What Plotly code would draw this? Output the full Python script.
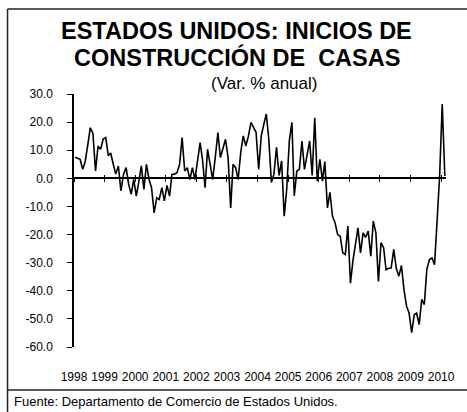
import pandas as pd
import plotly.graph_objects as go

# ---- data ----
start_month = "1998-01"
var_anual = [
    7.5, 7.2, 6.8, 3.2, 6.0, 12.0, 18.0, 16.0, 2.6, 11.5, 10.3, 14.0,          # 1998
    14.5, 8.0, 9.0, 5.0, 1.5, 4.4, -4.5, 1.4, 3.8, -2.0, -5.7, -0.4,           # 1999
    -6.3, -1.0, 4.4, -3.9, 5.0, -0.4, -3.3, -12.3, -6.9, -7.5, -3.3, -8.0,     # 2000
    -2.5, -6.3, 1.4, 1.5, 2.0, 5.0, 14.5, 2.6, 3.8, -0.4, 3.8, -0.4,           # 2001
    5.6, 12.7, 6.8, -3.3, 10.3, 5.0, -0.4, 7.4, 16.3, 7.4, 10.5, 13.9,         # 2002
    7.4, -10.5, 5.0, 3.8, -0.4, 9.2, 15.1, 11.5, 15.0, 19.9, 18.1, 16.3,       # 2003
    3.2, 15.1, 19.0, 22.9, 14.0, -1.5, 1.4, 11.0, 1.0, 6.2, -13.5, -3.9,       # 2004
    13.3, 19.9, -6.3, 2.6, 3.2, 13.3, 3.2, 8.6, 13.3, 1.0, 21.5, -1.0,         # 2005
    6.8, -1.0, 6.0, -10.5, -5.0, -13.5, -15.8, -20.0, -20.6, -26.5, -27.1, -17.0,  # 2006
    -37.3, -29.0, -23.0, -17.6, -26.5, -19.4, -21.0, -18.8, -27.7, -15.2, -19.4, -36.7,  # 2007
    -22.9, -24.7, -32.5, -32.0, -31.9, -25.3, -32.0, -34.8, -31.0, -39.6, -45.5, -47.9,  # 2008
    -54.9, -48.5, -47.9, -52.0, -43.1, -44.9, -32.4, -28.9, -28.3, -30.7, -15.0, 1.0,    # 2009
    26.4, 0.8,                                                                 # 2010
]
year_labels = ["1998", "1999", "2000", "2001", "2002", "2003", "2004",
               "2005", "2006", "2007", "2008", "2009", "2010"]
y_ticks = [30, 20, 10, 0, -10, -20, -30, -40, -50, -60]

title_line1 = "ESTADOS UNIDOS: INICIOS DE"
title_line2 = "CONSTRUCCIÓN DE  CASAS"
subtitle = "(Var. % anual)"
source = "Fuente: Departamento de Comercio de Estados Unidos."

# ---- geometry (pixels) ----
W, H = 467, 412
L, R, T, B = 74, 449, 94, 347
FONT = "Liberation Sans, Arial, sans-serif"


def px_x(x):
    return (x - L) / (R - L)


def px_y(y):
    return (B - y) / (B - T)


months = pd.date_range(start_month + "-01", periods=len(var_anual), freq="MS")
dates = months + pd.Timedelta(days=14)
x_start = months[0]
x_end = months[-1] + pd.DateOffset(months=1)
year_ticks = [pd.Timestamp(f"{y}-01-01") for y in year_labels]

ymin, ymax = min(y_ticks), max(y_ticks)
zero_pos = (0 - ymin) / (ymax - ymin)

fig = go.Figure()
fig.add_trace(go.Scatter(
    x=dates, y=var_anual, mode="lines",
    line=dict(color="black", width=1.6),
    showlegend=False, hoverinfo="skip",
))

common_x = dict(range=[x_start, x_end], showgrid=False, zeroline=False)

fig.update_layout(
    width=W, height=H,
    margin=dict(l=L, r=W - R, t=T, b=H - B),
    paper_bgcolor="white", plot_bgcolor="white",
    font=dict(family=FONT, color="black", size=12),
    showlegend=False,
    xaxis=dict(
        **common_x, anchor="free", position=zero_pos,
        showline=True, linecolor="black", linewidth=1.5,
        ticks="outside", ticklen=3, tickwidth=1.2, tickcolor="black",
        tickmode="array", tickvals=year_ticks, showticklabels=False,
    ),
    xaxis3=dict(
        **common_x, overlaying="x", matches="x", anchor="free", position=zero_pos,
        showline=False, ticks="inside", ticklen=3, tickwidth=1.2, tickcolor="black",
        tickmode="array", tickvals=year_ticks, showticklabels=False,
    ),
    xaxis2=dict(
        **common_x, overlaying="x", matches="x", anchor="y", side="bottom",
        showline=False, ticks="",
        tickmode="array", tickvals=year_ticks, ticktext=year_labels,
        tickangle=0, ticklabelstandoff=21,
        tickfont=dict(size=12, family=FONT, color="black"),
    ),
    yaxis=dict(
        range=[ymin, ymax], showgrid=False, zeroline=False,
        showline=True, linecolor="black", linewidth=1.5,
        ticks="outside", ticklen=5, tickwidth=1.2, tickcolor="black",
        tickmode="array", tickvals=y_ticks,
        ticktext=[f"{v:.1f}" for v in y_ticks],
        ticklabelstandoff=12,
        tickfont=dict(size=12, family=FONT, color="black"),
    ),
)

# invisible traces to activate overlay axes
fig.add_trace(go.Scatter(x=[dates[0]], y=[None], xaxis="x2", showlegend=False, hoverinfo="skip"))
fig.add_trace(go.Scatter(x=[dates[0]], y=[None], xaxis="x3", showlegend=False, hoverinfo="skip"))

# titles
fig.add_annotation(text=title_line1, xref="paper", yref="paper",
                   x=px_x(238), y=px_y(31), xanchor="center", yanchor="middle",
                   showarrow=False, font=dict(size=23.5, family=FONT, color="black", weight="bold"))
fig.add_annotation(text=title_line2, xref="paper", yref="paper",
                   x=px_x(238), y=px_y(58), xanchor="center", yanchor="middle",
                   showarrow=False, font=dict(size=23.5, family=FONT, color="black", weight="bold"))
fig.add_annotation(text=subtitle, xref="paper", yref="paper",
                   x=px_x(266), y=px_y(83), xanchor="center", yanchor="middle",
                   showarrow=False, font=dict(size=17, family=FONT, color="black"))
fig.add_annotation(text=source, xref="paper", yref="paper",
                   x=px_x(11), y=px_y(401), xanchor="left", yanchor="middle",
                   showarrow=False, font=dict(size=13, family=FONT, color="black"))

# frame lines
line_style = dict(color="#222222", width=1.5)
fig.add_shape(type="line", xref="paper", yref="paper",
              x0=px_x(7), x1=px_x(W + 5), y0=px_y(9), y1=px_y(9), line=line_style)
fig.add_shape(type="line", xref="paper", yref="paper",
              x0=px_x(7), x1=px_x(7), y0=px_y(9), y1=px_y(H + 5), line=line_style)
fig.add_shape(type="line", xref="paper", yref="paper",
              x0=px_x(7), x1=px_x(W + 5), y0=px_y(390), y1=px_y(390), line=line_style)

fig.write_html("out.html", config={"displayModeBar": False},
               post_script="document.body.style.margin='0';")
